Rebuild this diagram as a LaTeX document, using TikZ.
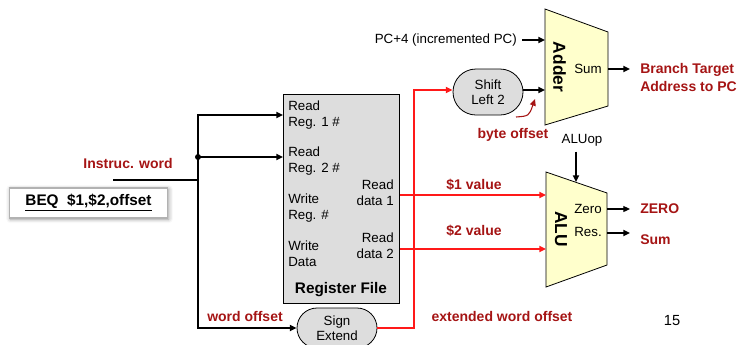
\documentclass[tikz,border=0pt]{standalone}
\usepackage{fontspec}
\setmainfont{Liberation Sans}
\usetikzlibrary{arrows.meta,shapes.misc,shadows.blur}

\definecolor{lblred}{RGB}{165,20,20}
\definecolor{wire}{RGB}{255,25,25}
\definecolor{unitfill}{RGB}{255,255,204}
\definecolor{boxgrey}{RGB}{221,221,221}

\begin{document}
\begin{tikzpicture}[x=0.75pt,y=-0.75pt,
  >={Triangle[length=5pt,width=4.5pt]},
  bus/.style={line width=1.4pt},
  thin bus/.style={line width=0.8pt},
  redwire/.style={line width=1.4pt, draw=wire},
  txt/.style={font=\fontsize{10}{12}\selectfont, inner sep=0pt},
  lbl/.style={font=\fontsize{10.5}{13}\selectfont\bfseries, text=lblred, inner sep=0pt, align=left},
  unitname/.style={font=\fontsize{13}{15}\selectfont\bfseries, rotate=-90, inner sep=0pt},
  oval/.style={rounded rectangle, draw, fill=boxgrey, line width=0.6pt,
    font=\fontsize{10}{11.25}\selectfont, align=center, inner sep=0pt},
  unit/.style={draw, fill=unitfill, line width=0.6pt}]

\useasboundingbox (0,0) rectangle (738,344);

% instruction box
\node[draw=gray!60, fill=white, line width=0.8pt,
      minimum width=119pt, minimum height=22.5pt,
      blur shadow={shadow xshift=0.8pt, shadow yshift=-0.8pt, shadow blur radius=3pt},
      font=\fontsize{11.5}{14}\selectfont\bfseries] (beq) at (88.5,203)
      {\underline{BEQ\ \ \$1,\$2,offset}};
\node[lbl] (iwlbl) at (128,163) {Instruc. word};

% register file
\node[draw, fill=boxgrey, line width=0.7pt, minimum width=87pt, minimum height=156.75pt,
      anchor=north west, inner sep=0pt] (rf) at (283,94) {};
\node[txt, anchor=west, align=left] (rr1) at (288,115) {Read\\Reg. 1 \#};
\node[txt, anchor=west, align=left] (rr2) at (288,161.5) {Read\\Reg. 2 \#};
\node[txt, anchor=west, align=left] (wr) at (288,208) {Write\\Reg. \#};
\node[txt, anchor=west, align=left] (wd) at (288,254) {Write\\Data};
\node[txt, anchor=east, align=right] (rd1) at (394,192.5) {Read\\data 1};
\node[txt, anchor=east, align=right] (rd2) at (394,246) {Read\\data 2};
\node[font=\fontsize{11.5}{14}\selectfont\bfseries, inner sep=0pt] (rflbl) at (341,290) {Register File};

% sign extension and shifter
\node[oval, minimum width=60pt, minimum height=30pt] (sx) at (337,328) {Sign\\Extend};
\node[oval, minimum width=52.5pt, minimum height=34.5pt] (sl) at (488,92) {Shift\\Left 2};

% instruction bus
\coordinate (iw) at (113,180);
\coordinate (bus) at (198,180);
\coordinate (jn) at (198,157);
\draw[bus] (iw) -- (bus);
\draw[bus,->] (bus) |- (rf.west |- rr1);
\draw[bus,->] (jn) -- (rf.west |- jn);
\draw[bus,->] (bus) |- (sx.west);
\fill (jn) circle (3);
\node[lbl] (wolbl) at (245,316) {word offset};

% adder
\draw[unit] (545,9) -- (608,32) -- (608,106) -- (545,125) -- cycle;
\coordinate (addA) at (545,40);
\coordinate (addB) at (545,90);
\coordinate (addO) at (608,69);
\node[unitname] (addlbl) at (559.5,67) {Adder};
\node[txt] (addsum) at (588,69) {Sum};
\node[txt, anchor=east] (pc4) at (517,40) {PC+4 (incremented PC)};
\draw[bus,->] ([xshift=3.75pt]pc4.east) -- (addA);
\coordinate (riser) at (414,90);
\draw[redwire,->] (sx.east) -| (riser) -- (riser -| sl.west);
\draw[bus,->] (sl.east |- addB) -- (addB);
\node[lbl, anchor=west] (btlbl) at (640,77.5) {Branch Target\\Address to PC};
\draw[bus,->] (addO) -- ([xshift=-7.5pt]btlbl.west |- addO);
\node[lbl] (bolbl) at (513,135) {byte offset};
\coordinate (bo1) at (516,117);
\coordinate (bo2) at (535,99);
\draw[lblred, line width=0.8pt, ->] (bo1) .. controls (529,116) .. (bo2);

% ALU
\draw[unit] (546,172) -- (607,193) -- (607,265) -- (546,287) -- cycle;
\coordinate (aluA) at (546,195);
\coordinate (aluB) at (546,249);
\coordinate (opin) at (576,182);
\node[unitname] (alulbl) at (561,229) {ALU};
\node[txt] (zero) at (588,209) {Zero};
\node[txt] (res) at (588,232) {Res.};
\node[txt] (aluop) at (582,140) {ALUop};
\draw[bus,->] ([yshift=-4pt]opin |- aluop.south) -- (opin);
\node[lbl, anchor=west] (zerolbl) at (640,209) {ZERO};
\node[lbl, anchor=west] (sumlbl) at (640,240) {Sum};
\coordinate (zout) at (607,209);
\coordinate (rout) at (607,233);
\draw[thin bus,->] (zout) -- ([xshift=-7.5pt]zerolbl.west |- zout);
\draw[bus,->] (rout) -- ([xshift=-7.5pt]sumlbl.west |- rout);

% register values to the ALU
\draw[redwire,->] (rf.east |- aluA) -- (aluA);
\draw[redwire,->] (rf.east |- aluB) -- (aluB);
\node[lbl] (v1lbl) at (474,185) {\$1 value};
\node[lbl] (v2lbl) at (474,231) {\$2 value};
\node[lbl] (ewlbl) at (502,316) {extended word offset};

\node[font=\fontsize{11}{13}\selectfont, inner sep=0pt] (pageno) at (672,321) {15};
\end{tikzpicture}
\end{document}
